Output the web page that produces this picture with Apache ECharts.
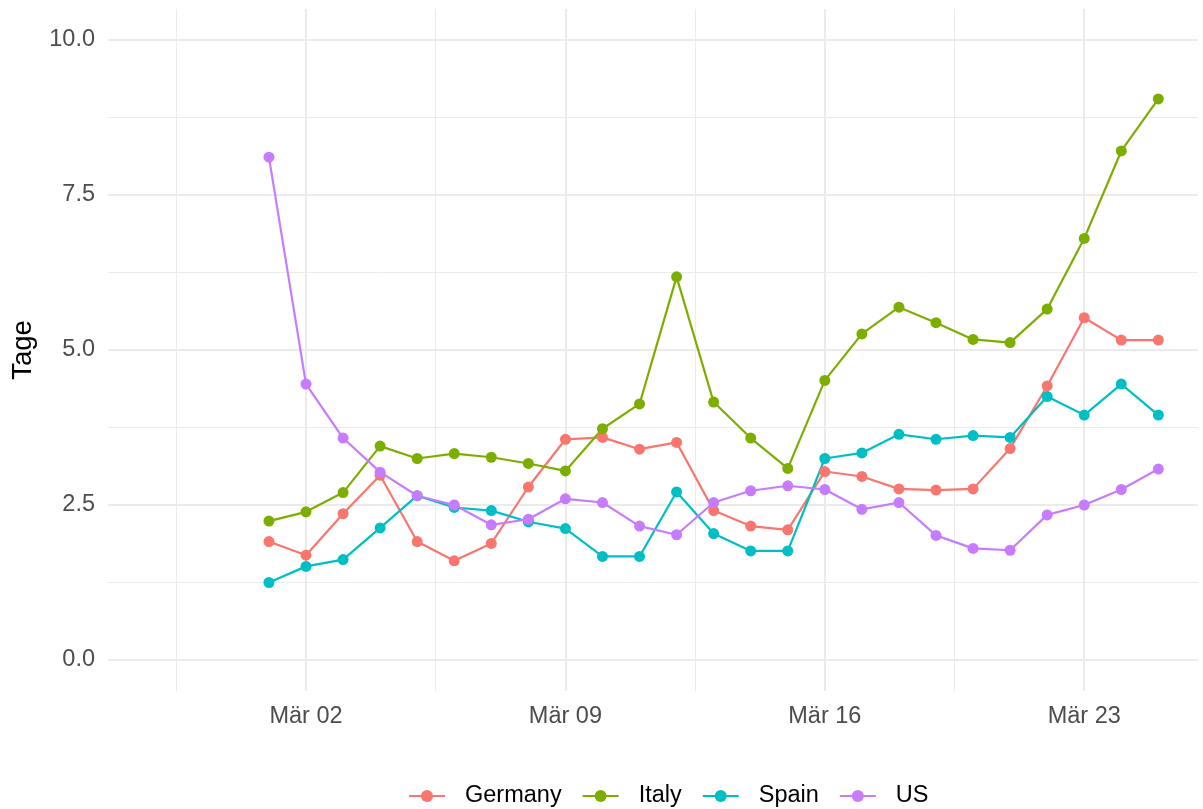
<!DOCTYPE html>
<html>
<head>
<meta charset="utf-8">
<script src="https://cdn.jsdelivr.net/npm/echarts@6/dist/echarts.min.js"></script>
<style>html,body{margin:0;padding:0;background:#fff;}#c{width:1203px;height:809px;}</style>
</head>
<body>
<div id="c"></div>
<script>
const dates = ['2020-03-01','2020-03-02','2020-03-03','2020-03-04','2020-03-05','2020-03-06','2020-03-07',
  '2020-03-08','2020-03-09','2020-03-10','2020-03-11','2020-03-12','2020-03-13','2020-03-14','2020-03-15',
  '2020-03-16','2020-03-17','2020-03-18','2020-03-19','2020-03-20','2020-03-21','2020-03-22','2020-03-23',
  '2020-03-24','2020-03-25'];
const germany = [1.91,1.69,2.36,2.98,1.91,1.60,1.88,2.79,3.56,3.59,3.40,3.51,2.41,2.16,2.10,3.04,2.96,2.76,2.74,2.76,3.41,4.42,5.52,5.16,5.16];
const italy   = [2.24,2.39,2.70,3.45,3.25,3.33,3.27,3.17,3.05,3.73,4.13,6.18,4.16,3.58,3.09,4.51,5.26,5.69,5.44,5.17,5.12,5.66,6.80,8.21,9.05];
const spain   = [1.25,1.51,1.62,2.13,2.65,2.46,2.41,2.23,2.12,1.67,1.67,2.71,2.04,1.76,1.76,3.25,3.34,3.64,3.56,3.62,3.59,4.25,3.95,4.45,3.95];
const us      = [8.11,4.45,3.58,3.03,2.65,2.50,2.18,2.27,2.60,2.54,2.16,2.02,2.54,2.73,2.81,2.75,2.43,2.54,2.01,1.80,1.77,2.34,2.50,2.75,3.08];
const seriesNames = ['Germany','Italy','Spain','US'];
const seriesColors = ['#F8766D','#7CAE00','#00BFC4','#C77CFF'];
const xTickDates = ['2020-03-02','2020-03-09','2020-03-16','2020-03-23'];
const xTickLabels = ['Mär 02','Mär 09','Mär 16','Mär 23'];
const xMinorDates = ['2020-02-27T12:00','2020-03-05T12:00','2020-03-12T12:00','2020-03-19T12:00'];
const yTicks = [0, 2.5, 5, 7.5, 10];
const yMinor = [1.25, 3.75, 6.25, 8.75];

const DAY = 86400000;
// day number (days since 1970-01-01 UTC)
const toDay = s => new Date(s.length === 10 ? s + 'T00:00:00Z' : s + ':00Z').getTime() / DAY;
const xMin = toDay('2020-03-02') - 5.343;
const xMax = toDay('2020-03-02') + 24.07;
const labelMap = {};
xTickDates.forEach((d, i) => { labelMap[toDay(d)] = xTickLabels[i]; });

const FONT = '"Liberation Sans", Arial, sans-serif';
const values = [germany, italy, spain, us];
const chart = echarts.init(document.getElementById('c'), null, {renderer: 'canvas'});
chart.setOption({
  animation: false,
  backgroundColor: '#ffffff',
  textStyle: {fontFamily: FONT},
  grid: {left: 108, right: 5, top: 9, bottom: 118, containLabel: false},
  legend: {
    left: 403,
    top: 779,
    itemWidth: 36, itemHeight: 15, itemGap: 20,
    textStyle: {fontSize: 23.5, color: '#000', fontFamily: FONT, padding: [0, 0, 0, 15]},
    data: seriesNames
  },
  xAxis: [{
    type: 'value', min: xMin, max: xMax,
    axisLine: {show: false}, axisTick: {show: false, customValues: xTickDates.map(toDay)},
    axisLabel: {customValues: xTickDates.map(toDay), formatter: v => labelMap[v] || '',
      color: '#4D4D4D', fontSize: 23.5, margin: 14, fontFamily: FONT},
    splitLine: {show: true, lineStyle: {color: '#EBEBEB', width: 2}}
  }, {
    type: 'value', min: xMin, max: xMax, gridIndex: 0,
    axisLine: {show: false}, axisTick: {show: false, customValues: xMinorDates.map(toDay)},
    axisLabel: {show: false},
    splitLine: {show: true, lineStyle: {color: '#EBEBEB', width: 1}}
  }],
  yAxis: [{
    type: 'value', min: -0.5, max: 10.5,
    name: 'Tage', nameLocation: 'middle', nameRotate: 90, nameGap: 71,
    nameTextStyle: {fontSize: 27.5, color: '#000', fontFamily: FONT},
    axisLine: {show: false}, axisTick: {show: false, customValues: yTicks},
    axisLabel: {customValues: yTicks, formatter: v => v.toFixed(1), color: '#4D4D4D', fontSize: 23.5, margin: 13, fontFamily: FONT},
    splitLine: {show: true, lineStyle: {color: '#EBEBEB', width: 2}}
  }, {
    type: 'value', min: -0.5, max: 10.5,
    axisLine: {show: false}, axisTick: {show: false, customValues: yMinor},
    axisLabel: {show: false},
    splitLine: {show: true, lineStyle: {color: '#EBEBEB', width: 1}}
  }],
  series: seriesNames.map((name, i) => ({
    name: name, type: 'line', xAxisIndex: 0, yAxisIndex: 0,
    data: dates.map((d, j) => [toDay(d), values[i][j]]),
    symbol: 'circle', symbolSize: 11, showSymbol: true,
    itemStyle: {color: seriesColors[i]},
    lineStyle: {color: seriesColors[i], width: 2.2},
    emphasis: {disabled: true}
  }))
});
</script>
</body>
</html>
